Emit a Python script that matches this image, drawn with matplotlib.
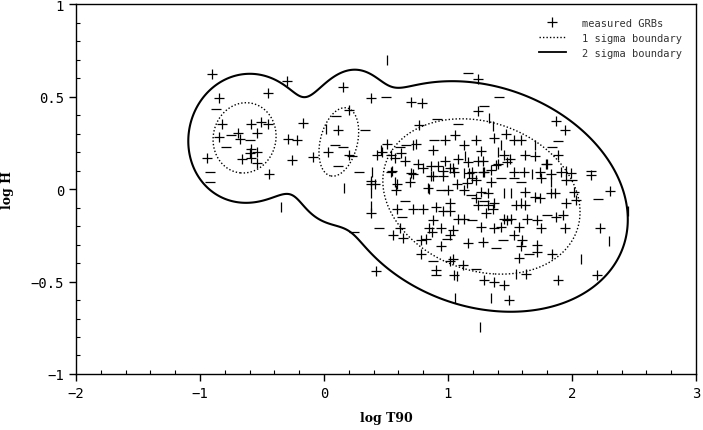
import numpy as np
import matplotlib
matplotlib.use("Agg")
import matplotlib.pyplot as plt
from matplotlib.lines import Line2D

# GRB points (log T90, log H), split by how the marker looks
plus_pts = [
    (-0.90, 0.62), (-0.30, 0.585), (-0.85, 0.49), (-0.45, 0.52), (-0.82, 0.35), (-0.59, 0.35),
    (-0.51, 0.365), (-0.45, 0.35), (-0.17, 0.355), (-0.85, 0.28), (-0.69, 0.305), (-0.68, 0.27),
    (-0.54, 0.305), (-0.29, 0.27), (-0.22, 0.265), (-0.59, 0.215), (-0.60, 0.195), (-0.54, 0.20),
    (-0.94, 0.17), (-0.66, 0.165), (-0.59, 0.17), (-0.54, 0.14), (-0.26, 0.155), (-0.09, 0.175),
    (0.03, 0.20), (-0.44, 0.08),
    (0.11, 0.32), (0.15, 0.55), (0.20, 0.43), (0.20, 0.185),
    (0.38, 0.49), (0.70, 0.47), (0.79, 0.465), (1.24, 0.595), (1.24, 0.42), (1.87, 0.37),
    (1.94, 0.32), (0.77, 0.345), (0.51, 0.245), (0.74, 0.245), (0.98, 0.265), (1.06, 0.29),
    (1.13, 0.24), (1.23, 0.265), (1.37, 0.275), (1.47, 0.30), (1.53, 0.265), (1.59, 0.265),
    (1.89, 0.185), (2.15, 0.075), (2.31, -0.01),
    (0.43, 0.185), (0.47, 0.20), (0.54, 0.185), (0.57, 0.17), (0.62, 0.195), (0.65, 0.15),
    (0.76, 0.135), (0.80, 0.115), (0.86, 0.125), (0.88, 0.21), (0.92, 0.125), (0.98, 0.15),
    (1.02, 0.115), (1.04, 0.115), (1.08, 0.16), (1.16, 0.145), (1.24, 0.15), (1.27, 0.205),
    (1.28, 0.15), (1.39, 0.13), (1.40, 0.135), (1.45, 0.185), (1.48, 0.145), (1.50, 0.16),
    (1.62, 0.185), (1.70, 0.18), (1.79, 0.135), (1.80, 0.135),
    (0.38, 0.045), (0.54, 0.095), (0.55, 0.10), (0.70, 0.085), (0.72, 0.08), (0.86, 0.07),
    (0.88, 0.07), (0.96, 0.10), (0.96, 0.07), (1.05, 0.095), (1.17, 0.085), (1.19, 0.09),
    (1.28, 0.095), (1.29, 0.095), (1.35, 0.105), (1.535, 0.095), (1.615, 0.095), (1.74, 0.095),
    (1.83, 0.08), (1.91, 0.095), (1.99, 0.085),
    (0.38, 0.025), (0.41, 0.025), (0.59, 0.025), (0.58, -0.005), (0.69, 0.04), (0.84, 0.005),
    (1.00, -0.005), (1.07, 0.025), (1.19, 0.06), (1.23, 0.05), (1.35, 0.04), (1.75, 0.06),
    (1.15, 0.035), (1.13, -0.005), (1.27, -0.015), (1.32, -0.02), (1.23, -0.05), (1.62, -0.015),
    (1.70, -0.045), (1.74, -0.05), (1.83, -0.02), (1.86, -0.02), (1.95, 0.05), (2.02, -0.015),
    (2.03, -0.06), (1.95, -0.075),
    (0.38, -0.13), (0.59, -0.11), (0.72, -0.11), (0.80, -0.11), (0.90, -0.095), (0.96, -0.12),
    (1.02, -0.075), (1.02, -0.12), (1.08, -0.16), (1.24, -0.085), (1.32, -0.085), (1.37, -0.075),
    (1.36, -0.11), (1.31, -0.13), (1.55, -0.085), (1.62, -0.085), (1.13, -0.16), (1.45, -0.16),
    (1.48, -0.165), (1.51, -0.16), (1.64, -0.16), (1.72, -0.165), (1.87, -0.15), (1.93, -0.14),
    (0.88, -0.165),
    (0.61, -0.21), (0.85, -0.21), (0.94, -0.21), (1.04, -0.22), (1.27, -0.205), (1.37, -0.21),
    (1.43, -0.205), (1.575, -0.205), (1.75, -0.21), (1.94, -0.21), (2.23, -0.21), (0.555, -0.25),
    (0.635, -0.265), (0.78, -0.275), (0.82, -0.27), (0.87, -0.23), (0.94, -0.31), (1.02, -0.25),
    (1.16, -0.29), (1.28, -0.285), (1.535, -0.25), (1.60, -0.275), (1.59, -0.31), (1.72, -0.30),
    (1.72, -0.34), (1.84, -0.35), (0.78, -0.35), (1.02, -0.39), (1.12, -0.41), (1.575, -0.375),
    (0.90, -0.44), (1.05, -0.465), (0.42, -0.445), (1.29, -0.49), (1.37, -0.50), (1.45, -0.52),
    (1.63, -0.46), (1.885, -0.49), (2.20, -0.465), (1.49, -0.60), (1.04, -0.38),
]
minus_pts = [
    (-0.87, 0.435), (-0.75, 0.295), (-0.60, 0.265), (-0.79, 0.23), (-0.92, 0.095), (-0.92, 0.04),
    (0.11, 0.125), (0.10, 0.395), (0.15, 0.225), (0.50, 0.50), (1.16, 0.63), (0.33, 0.32),
    (0.09, 0.24), (0.91, 0.38), (1.08, 0.35), (0.66, 0.24), (0.89, 0.265), (1.41, 0.50),
    (1.29, 0.45), (1.89, 0.26), (0.61, 0.23), (1.84, 0.23), (2.15, 0.10), (2.21, -0.055),
    (0.23, 0.18), (0.285, 0.095), (0.65, -0.065), (0.63, -0.15), (0.44, -0.21), (0.245, -0.23),
    (0.94, -0.005), (1.29, -0.065), (1.53, 0.06), (1.59, 0.04), (1.43, 0.06), (1.185, -0.03),
    (1.80, -0.14), (1.19, -0.165), (1.39, -0.32), (1.44, -0.275), (1.65, -0.35), (0.88, -0.39),
    (1.23, -0.43), (0.90, -0.465), (0.99, -0.27), (2.00, 0.05),
]
bar_pts = [
    (-0.35, -0.095), (0.02, 0.325), (0.16, 0.005), (0.51, 0.70), (1.33, 0.385), (1.36, 0.34),
    (1.43, 0.24), (0.72, 0.24), (1.70, 0.24), (2.45, -0.12), (0.39, 0.095), (0.57, 0.04),
    (0.85, 0.0), (1.13, 0.085), (1.45, -0.02), (1.51, -0.02), (1.68, 0.08), (1.83, 0.04),
    (1.95, 0.10), (0.38, -0.09), (0.38, -0.02), (2.30, -0.28), (2.07, -0.38), (1.06, -0.59),
    (1.35, -0.59), (1.26, -0.745), (1.59, -0.075), (1.07, -0.47), (0.46, 0.21), (1.55, -0.46),
    (1.40, 0.20), (1.14, 0.18),
]

# three-group gaussian model (short, intermediate, long)
mean_x = [-0.64, 0.12, 1.27]
mean_y = [0.277, 0.255, -0.04]
sig_x = [0.254, 0.16, 0.795]
sig_y = [0.19, 0.185, 0.42]
corr = [0.05, 0.3, -0.2]
weight = [0.17, 0.10, 0.73]
level_2sigma = 0.118


def gauss(X, Y, i):
    u = (X - mean_x[i]) / sig_x[i]
    v = (Y - mean_y[i]) / sig_y[i]
    r = corr[i]
    q = (u * u - 2 * r * u * v + v * v) / (1 - r * r)
    return q, np.exp(-0.5 * q) / (2 * np.pi * sig_x[i] * sig_y[i] * np.sqrt(1 - r * r))


fig = plt.figure(figsize=(7.03, 4.31), dpi=100)
ax = fig.add_axes([0.108, 0.130, 0.882, 0.858])

gx = np.linspace(-2, 3, 600)
gy = np.linspace(-1, 1, 400)
X, Y = np.meshgrid(gx, gy)
dens = np.zeros_like(X)
for i in range(3):
    q, d = gauss(X, Y, i)
    dens += weight[i] * d
    ax.contour(X, Y, q, levels=[1.0], colors="black", linewidths=1.0, linestyles=[(0, (1, 1.5))])
ax.contour(X, Y, dens, levels=[level_2sigma], colors="black", linewidths=1.5)

ms = 7
px, py = zip(*plus_pts)
ax.plot(px, py, "+", color="black", ms=ms, mew=0.9, ls="none")
mx, my = zip(*minus_pts)
ax.plot(mx, my, "_", color="black", ms=ms, mew=0.9, ls="none")
bx, by = zip(*bar_pts)
ax.plot(bx, by, "|", color="black", ms=ms, mew=0.9, ls="none")

ax.set_xlim(-2, 3)
ax.set_ylim(-1, 1)
ax.set_xticks([-2, -1, 0, 1, 2, 3])
ax.set_xticks(np.arange(-2, 3.01, 0.2), minor=True)
ax.set_yticks([-1, -0.5, 0, 0.5, 1])
ax.set_yticks(np.arange(-1, 1.01, 0.1), minor=True)
ax.set_xticklabels(["\u22122", "\u22121", "0", "1", "2", "3"], family="DejaVu Sans Mono", fontsize=10)
ax.set_yticklabels(["\u22121", "\u22120.5", "0", "0.5", "1"], family="DejaVu Sans Mono", fontsize=10)
ax.tick_params(which="major", direction="out", length=5, width=1)
ax.tick_params(which="minor", direction="in", length=3, width=0.8)
for s in ax.spines.values():
    s.set_linewidth(1.0)

ax.set_xlabel("log T90", family="DejaVu Serif", fontweight="bold", fontsize=9, labelpad=8)
ax.set_ylabel("log H", family="DejaVu Serif", fontweight="bold", fontsize=9, labelpad=12)

handles = [
    Line2D([], [], color="black", marker="+", ls="none", ms=7, mew=0.9),
    Line2D([], [], color="black", lw=1.0, ls=(0, (1, 1.5))),
    Line2D([], [], color="black", lw=1.3),
]
ax.legend(handles, ["measured GRBs", "1 sigma boundary", "2 sigma boundary"],
          loc="upper right", frameon=False, prop={"family": "DejaVu Sans Mono", "size": 7.5},
          labelcolor="#333333", handlelength=2.6, handletextpad=1.6,
          labelspacing=0.5, borderaxespad=0.9)

fig.savefig("out.png", dpi=100)
